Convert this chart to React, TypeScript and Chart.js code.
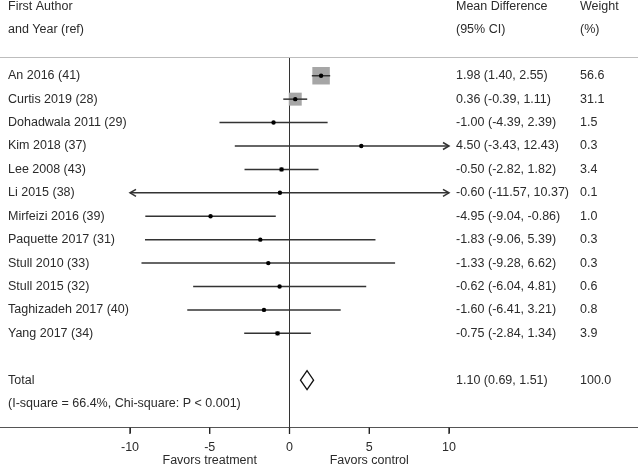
import React, { useEffect, useRef } from "react";
import { Chart, registerables } from "chart.js";

Chart.register(...registerables);

const studies = [
  "An 2016 (41)",
  "Curtis 2019 (28)",
  "Dohadwala 2011 (29)",
  "Kim 2018 (37)",
  "Lee 2008 (43)",
  "Li 2015 (38)",
  "Mirfeizi 2016 (39)",
  "Paquette 2017 (31)",
  "Stull 2010 (33)",
  "Stull 2015 (32)",
  "Taghizadeh 2017 (40)",
  "Yang 2017 (34)",
];
const meanDiff = [1.98, 0.36, -1.0, 4.5, -0.5, -0.6, -4.95, -1.83, -1.33, -0.62, -1.6, -0.75];
const lowerCI = [1.4, -0.39, -4.39, -3.43, -2.82, -11.57, -9.04, -9.06, -9.28, -6.04, -6.41, -2.84];
const upperCI = [2.55, 1.11, 2.39, 12.43, 1.82, 10.37, -0.86, 5.39, 6.62, 4.81, 3.21, 1.34];
const weights = [56.6, 31.1, 1.5, 0.3, 3.4, 0.1, 1.0, 0.3, 0.3, 0.6, 0.8, 3.9];
const ciText = [
  "1.98 (1.40, 2.55)",
  "0.36 (-0.39, 1.11)",
  "-1.00 (-4.39, 2.39)",
  "4.50 (-3.43, 12.43)",
  "-0.50 (-2.82, 1.82)",
  "-0.60 (-11.57, 10.37)",
  "-4.95 (-9.04, -0.86)",
  "-1.83 (-9.06, 5.39)",
  "-1.33 (-9.28, 6.62)",
  "-0.62 (-6.04, 4.81)",
  "-1.60 (-6.41, 3.21)",
  "-0.75 (-2.84, 1.34)",
];
const weightText = ["56.6", "31.1", "1.5", "0.3", "3.4", "0.1", "1.0", "0.3", "0.3", "0.6", "0.8", "3.9"];

const totalMean = 1.1;
const totalLower = 0.69;
const totalUpper = 1.51;
const totalCiText = "1.10 (0.69, 1.51)";
const totalWeightText = "100.0";
const heterogeneityText = "(I-square = 66.4%, Chi-square: P < 0.001)";

const headerLeft = ["First Author", "and Year (ref)"];
const headerMid = ["Mean Difference", "(95% CI)"];
const headerRight = ["Weight", "(%)"];

const xTicks = [-10, -5, 0, 5, 10];
const xTickNotes: Record<number, string> = { [-5]: "Favors treatment", [5]: "Favors control" };

const X_MIN = -10;
const X_MAX = 10;
const FIRST_ROW = 3;
const TOTAL_ROW = 16;
const HET_ROW = 17;

const FONT = "12.5px 'Liberation Sans', Arial, sans-serif";
const TEXT_COLOR = "#2b2b2b";
const LINE_COLOR = "#333333";

const rowOf = (i: number) => FIRST_ROW + i;
const clamp = (v: number) => Math.max(X_MIN, Math.min(X_MAX, v));

export default function App() {
  const canvasRef = useRef<HTMLCanvasElement | null>(null);

  useEffect(() => {
    const canvas = canvasRef.current;
    if (!canvas) return;

    const forestPlugin = {
      id: "forestDecor",
      afterDatasetsDraw(chart: any) {
        const { ctx, scales, chartArea, width } = chart;
        const xs = scales.x;
        const ys = scales.y;
        ctx.save();
        // arrows for clipped CIs
        ctx.strokeStyle = LINE_COLOR;
        ctx.lineWidth = 1.5;
        studies.forEach((_, i) => {
          const y = ys.getPixelForValue(rowOf(i));
          if (upperCI[i] > X_MAX) {
            const tx = xs.getPixelForValue(X_MAX);
            ctx.beginPath();
            ctx.moveTo(tx - 6, y - 3.5);
            ctx.lineTo(tx, y);
            ctx.lineTo(tx - 6, y + 3.5);
            ctx.stroke();
          }
          if (lowerCI[i] < X_MIN) {
            const tx = xs.getPixelForValue(X_MIN);
            ctx.beginPath();
            ctx.moveTo(tx + 6, y - 3.5);
            ctx.lineTo(tx, y);
            ctx.lineTo(tx + 6, y + 3.5);
            ctx.stroke();
          }
        });
        // total diamond
        const ty = ys.getPixelForValue(TOTAL_ROW);
        const lx = xs.getPixelForValue(totalLower);
        const mx = xs.getPixelForValue(totalMean);
        const rx = xs.getPixelForValue(totalUpper);
        ctx.beginPath();
        ctx.moveTo(lx, ty);
        ctx.lineTo(mx, ty - 9.5);
        ctx.lineTo(rx, ty);
        ctx.lineTo(mx, ty + 9.5);
        ctx.closePath();
        ctx.fillStyle = "#ffffff";
        ctx.fill();
        ctx.strokeStyle = "#111111";
        ctx.lineWidth = 1.3;
        ctx.stroke();

        // text columns
        ctx.font = FONT;
        ctx.fillStyle = TEXT_COLOR;
        ctx.textBaseline = "middle";
        ctx.textAlign = "left";
        const colLeft = 8;
        const colMid = 456;
        const colRight = 580;
        [0, 1].forEach((r) => {
          const y = ys.getPixelForValue(r) + 1;
          ctx.fillText(headerLeft[r], colLeft, y);
          ctx.fillText(headerMid[r], colMid, y);
          ctx.fillText(headerRight[r], colRight, y);
        });
        studies.forEach((name, i) => {
          const y = ys.getPixelForValue(rowOf(i));
          ctx.fillText(name, colLeft, y);
          ctx.fillText(ciText[i], colMid, y);
          ctx.fillText(weightText[i], colRight, y);
        });
        ctx.fillText("Total", colLeft, ty);
        ctx.fillText(totalCiText, colMid, ty);
        ctx.fillText(totalWeightText, colRight, ty);
        ctx.fillText(heterogeneityText, colLeft, ys.getPixelForValue(HET_ROW));

        // horizontal rules spanning the full width
        ctx.lineWidth = 1;
        ctx.strokeStyle = "#bdbdbd";
        ctx.beginPath();
        ctx.moveTo(0, Math.round(chartArea.top) + 0.5);
        ctx.lineTo(width, Math.round(chartArea.top) + 0.5);
        ctx.stroke();
        const by = Math.round(chartArea.bottom) + 0.5;
        ctx.strokeStyle = "#555555";
        ctx.beginPath();
        ctx.moveTo(0, by);
        ctx.lineTo(width, by);
        ctx.stroke();
        // tick marks
        ctx.strokeStyle = "#222222";
        ctx.lineWidth = 1.3;
        xTicks.forEach((v) => {
          const px = xs.getPixelForValue(v);
          ctx.beginPath();
          ctx.moveTo(px, by);
          ctx.lineTo(px, by + 6.5);
          ctx.stroke();
        });
        ctx.restore();
      },
    };

    const maxW = Math.max(...weights);
    const ciDatasets = studies.map((_, i) => ({
      type: "line" as const,
      data: [
        { x: clamp(lowerCI[i]), y: rowOf(i) },
        { x: clamp(upperCI[i]), y: rowOf(i) },
      ],
      borderColor: LINE_COLOR,
      borderWidth: 1.5,
      pointRadius: 0,
      fill: false,
      order: 2,
    }));

    const chart = new Chart(canvas, {
      type: "scatter",
      data: {
        datasets: [
          {
            type: "scatter",
            data: studies.map((_, i) => ({ x: meanDiff[i], y: rowOf(i) })),
            pointStyle: "rect",
            pointRadius: weights.map((w) => (17.5 * Math.sqrt(w / maxW)) / Math.SQRT2),
            backgroundColor: "#a6a6a6",
            borderWidth: 0,
            order: 3,
          } as any,
          ...ciDatasets,
          {
            type: "scatter",
            data: studies.map((_, i) => ({ x: meanDiff[i], y: rowOf(i) })),
            pointStyle: "circle",
            pointRadius: 2.2,
            backgroundColor: "#000000",
            borderWidth: 0,
            order: 1,
          } as any,
        ],
      },
      options: {
        animation: false,
        responsive: false,
        devicePixelRatio: 1,
        layout: { padding: { left: 130, right: 189, top: 57, bottom: 0 } },
        plugins: { legend: { display: false }, tooltip: { enabled: false } },
        scales: {
          x: {
            type: "linear",
            min: X_MIN,
            max: X_MAX,
            afterBuildTicks: (scale: any) => {
              scale.ticks = xTicks.map((v) => ({ value: v }));
            },
            afterFit: (scale: any) => {
              scale.height = 38;
            },
            grid: {
              drawOnChartArea: true,
              drawTicks: true,
              tickLength: 6,
              color: (c: any) => (c.tick && c.tick.value === 0 ? LINE_COLOR : "rgba(0,0,0,0)"),
              tickColor: LINE_COLOR,
              lineWidth: 1,
            },
            border: { display: false },
            ticks: {
              padding: 8,
              autoSkip: false,
              color: TEXT_COLOR,
              font: { family: "'Liberation Sans', Arial, sans-serif", size: 12.5, lineHeight: 1.05 },
              callback: (v: any) => {
                const n = Number(v);
                return xTickNotes[n] ? [String(n), xTickNotes[n]] : String(n);
              },
              maxRotation: 0,
            },
          },
          y: {
            type: "linear",
            display: false,
            reverse: true,
            min: 2.2,
            max: 18,
          },
        },
      },
      plugins: [forestPlugin],
    } as any);

    return () => chart.destroy();
  }, []);

  return (
    <div style={{ position: "absolute", left: 0, top: 0, width: 638, height: 465, background: "#fff" }}>
      <canvas ref={canvasRef} width={638} height={465} style={{ display: "block" }} />
    </div>
  );
}
